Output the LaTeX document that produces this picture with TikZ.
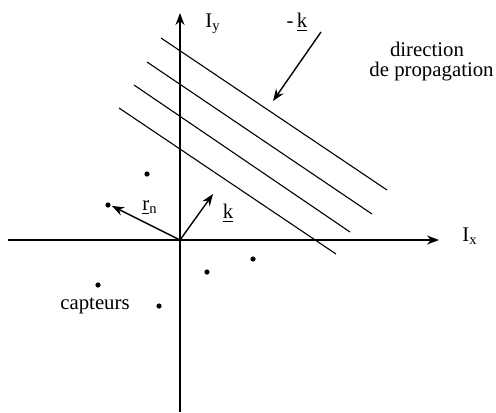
\documentclass[tikz,border=0pt]{standalone}
\usepackage{fontspec}
\setmainfont{Liberation Serif}
\usetikzlibrary{arrows.meta}
\begin{document}
\begin{tikzpicture}[x=0.5pt,y=-0.5pt,
  axis/.style={line width=0.7pt,-{Stealth[length=6pt,width=4.5pt]}},
  vec/.style={line width=0.7pt,-{Stealth[length=6pt,width=4.5pt]}},
  wave/.style={line width=0.55pt},
  dot/.style={circle,fill=black,inner sep=0pt,minimum size=2.6pt},
  lbl/.style={inner sep=0pt,font=\fontsize{10.4}{12}\selectfont}]
\useasboundingbox (0,0) rectangle (496,412);
% axes
\coordinate (O) at (180,240);
\coordinate (xs) at (8,240);
\coordinate (xe) at (439,240);
\coordinate (ys) at (180,412);
\coordinate (ye) at (180,13);
\draw[axis] (xs) -- (xe);
\draw[axis] (ys) -- (ye);
\node[lbl] (Ix) at (470,236) {I\textsubscript{x}};
\node[lbl] (Iy) at (213,24) {I\textsubscript{y}};
% wavefronts
\coordinate (a1) at (161,38);  \coordinate (b1) at (387,190);
\coordinate (a2) at (147,62);  \coordinate (b2) at (372,214);
\coordinate (a3) at (134,85);  \coordinate (b3) at (350,232);
\coordinate (a4) at (119,108); \coordinate (b4) at (336,254);
\draw[wave] (a1) -- (b1);
\draw[wave] (a2) -- (b2);
\draw[wave] (a3) -- (b3);
\draw[wave] (a4) -- (b4);
% -k arrow
\coordinate (ks) at (321,32);
\coordinate (ke) at (273,101);
\draw[vec] (ks) -- (ke);
\node[lbl] (mk) at (297,22) {-\,\underline{k}};
\node[lbl] (dir1) at (427,49) {direction};
\node[lbl,anchor=east] (dir2) at (494,72) {de propagation};
% vectors k and r_n
\coordinate (kt) at (213,194);
\draw[vec] (O) -- (kt);
\node[lbl] (kl) at (228,213) {\underline{k}};
\coordinate (rt) at (112,206);
\draw[vec] (O) -- (rt);
\node[lbl] (rl) at (150,208) {\underline{r}\textsubscript{n}};
% sensors
\node[dot] (s1) at (108,205) {};
\node[dot] (s2) at (147,174) {};
\node[dot] (s3) at (98,285) {};
\node[dot] (s4) at (159,306) {};
\node[dot] (s5) at (207,272) {};
\node[dot] (s6) at (253,259) {};
\node[lbl] (cap) at (95,306) {capteurs};
\end{tikzpicture}
\end{document}
